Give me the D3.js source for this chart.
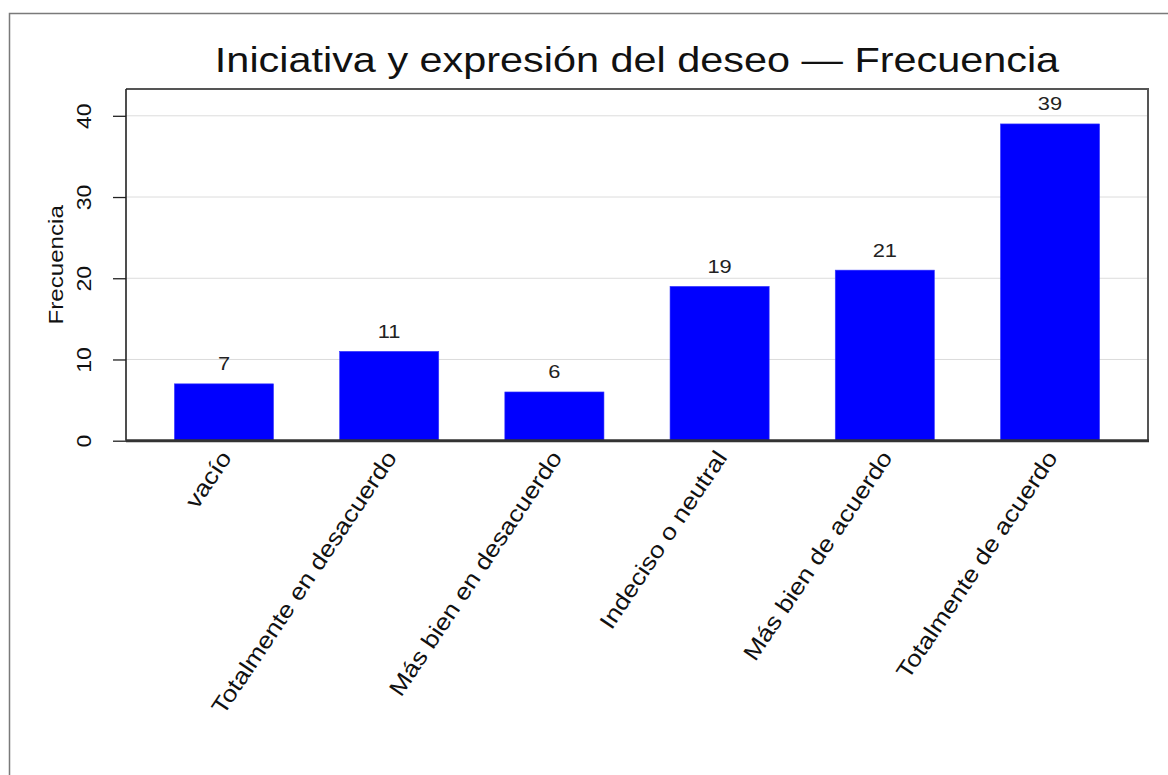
<!DOCTYPE html>
<html>
<head>
<meta charset="utf-8">
<script src="https://cdn.jsdelivr.net/npm/d3@7/dist/d3.min.js"></script>
<style>
  html, body { margin: 0; padding: 0; background: #fff; }
  svg { display: block; font-family: "Liberation Sans", Arial, Helvetica, sans-serif; }
</style>
</head>
<body>
<svg id="chart" width="1168" height="775"></svg>
<script>
const titleText = "Iniciativa y expresión del deseo — Frecuencia";
const yLabelText = "Frecuencia";
const categories = ["vacío", "Totalmente en desacuerdo", "Más bien en desacuerdo", "Indeciso o neutral", "Más bien de acuerdo", "Totalmente de acuerdo"];
const values = [7, 11, 6, 19, 21, 39];
const yTicks = [0, 10, 20, 30, 40];

const svg = d3.select("#chart");
const plot = { left: 126, right: 1148, top: 89, bottom: 440.7 };
const stretch = 1.15;

// outer frame
svg.append("rect")
  .attr("x", 9.5).attr("y", 13.5)
  .attr("width", 1200).attr("height", 800)
  .attr("fill", "none").attr("stroke", "#7a7a7a").attr("stroke-width", 1.5);

const x = d3.scaleBand().domain(categories)
  .range([plot.left, plot.right])
  .paddingInner(0.4).paddingOuter(0.293);
const y = d3.scaleLinear().domain([0, 43.3]).range([plot.bottom, plot.top]);

// gridlines
svg.append("g").selectAll("line").data(yTicks.filter(d => d > 0)).join("line")
  .attr("x1", plot.left).attr("x2", plot.right)
  .attr("y1", d => y(d)).attr("y2", d => y(d))
  .attr("stroke", "#dcdcdc").attr("stroke-width", 1);

// bars
svg.append("g").selectAll("rect").data(values).join("rect")
  .attr("x", (d, i) => x(categories[i]))
  .attr("y", d => y(d))
  .attr("width", x.bandwidth())
  .attr("height", d => y(0) - y(d))
  .attr("fill", "#0000ff")
  .attr("stroke", "#3a3aff").attr("stroke-width", 0.6);

// value labels
svg.append("g").selectAll("text").data(values).join("text")
  .attr("transform", (d, i) => `translate(${x(categories[i]) + x.bandwidth() / 2},${y(d) - 13.5}) scale(${stretch},1)`)
  .attr("text-anchor", "middle")
  .attr("font-size", 19)
  .attr("fill", "#222")
  .text(d => d);

// top and right frame of plot
svg.append("path")
  .attr("d", `M${plot.left},${plot.top}H${plot.right}V${plot.bottom}`)
  .attr("fill", "none").attr("stroke", "#555").attr("stroke-width", 2);

// y axis
const yAxis = d3.axisLeft(y).tickValues(yTicks).tickSize(13).tickPadding(0);
const gy = svg.append("g").attr("transform", `translate(${plot.left},0)`).call(yAxis);
gy.select(".domain").attr("d", `M0,${plot.top}V${plot.bottom}`).attr("stroke", "#222").attr("stroke-width", 1.6);
gy.selectAll(".tick line").attr("stroke", "#222").attr("stroke-width", 1.3);
gy.selectAll(".tick text")
  .attr("x", null).attr("dy", null)
  .attr("transform", `translate(-35,0) rotate(-90) scale(${stretch},1)`)
  .attr("text-anchor", "middle")
  .attr("font-size", 20)
  .attr("font-family", "Liberation Sans, Arial, sans-serif")
  .attr("fill", "#111");

// x axis baseline
svg.append("line")
  .attr("x1", plot.left).attr("x2", plot.right + 1)
  .attr("y1", plot.bottom).attr("y2", plot.bottom)
  .attr("stroke", "#333").attr("stroke-width", 3);

// x labels
svg.append("g").selectAll("text").data(categories).join("text")
  .attr("transform", d => `translate(${x(d) + x.bandwidth() / 2 + 8.5},${plot.bottom + 17}) rotate(-56) scale(${stretch},1)`)
  .attr("text-anchor", "end")
  .attr("font-size", 23)
  .attr("fill", "#111")
  .text(d => d);

// y label
svg.append("text")
  .attr("transform", `translate(63,${(plot.top + plot.bottom) / 2}) rotate(-90) scale(${stretch},1)`)
  .attr("text-anchor", "middle")
  .attr("font-size", 21)
  .attr("fill", "#111")
  .text(yLabelText);

// title
svg.append("text")
  .attr("transform", `translate(${(plot.left + plot.right) / 2},72) scale(${stretch},1)`)
  .attr("text-anchor", "middle")
  .attr("font-size", 36)
  .attr("fill", "#111")
  .text(titleText);
</script>
</body>
</html>
